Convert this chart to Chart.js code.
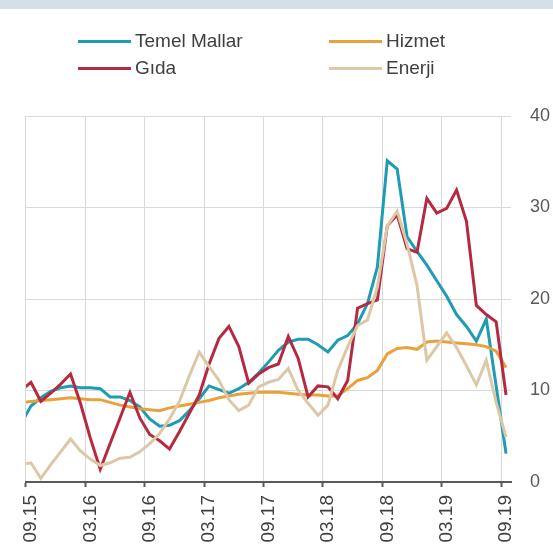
<!DOCTYPE html>
<html>
<head>
<meta charset="utf-8">
<script src="https://cdn.jsdelivr.net/npm/chart.js@4.4.1/dist/chart.umd.min.js"></script>
<style>
  html, body { margin: 0; padding: 0; background: #ffffff; }
  #wrap { position: relative; width: 553px; height: 544px; overflow: hidden; }
  #band { position: absolute; left: 0; top: 0; width: 553px; height: 9px; background: #d6dfe8; }
  canvas { position: absolute; left: 0; top: 0; }
  .lg { position: absolute; font-family: "Liberation Sans", Arial, sans-serif; font-size: 19px; color: #404040; line-height: 20px; white-space: nowrap; }
  .lgline { position: absolute; height: 3px; width: 53px; }
</style>
</head>
<body>
<div id="wrap">
  <div id="band"></div>
  <canvas id="c" width="553" height="544"></canvas>
  <div id="legend"></div>
</div>
<script>
// Category labels (first entry 08.15 lies just outside the visible axis, its segment is clipped at the left edge)
const labels = ['08.15','09.15','10.15','11.15','12.15','01.16','02.16','03.16','04.16','05.16','06.16','07.16','08.16',
  '09.16','10.16','11.16','12.16','01.17','02.17','03.17','04.17','05.17','06.17','07.17','08.17',
  '09.17','10.17','11.17','12.17','01.18','02.18','03.18','04.18','05.18','06.18','07.18','08.18',
  '09.18','10.18','11.18','12.18','01.19','02.19','03.19','04.19','05.19','06.19','07.19','08.19','09.19'];

const seriesNames = ['Temel Mallar', 'Hizmet', 'Gıda', 'Enerji'];

const temelMallar = [6.4, 8.3, 9.2, 9.9, 10.3, 10.5, 10.3, 10.3, 10.2, 9.3, 9.3, 8.9, 8.2,
  6.9, 6.1, 6.2, 6.7, 7.8, 9.1, 10.5, 10.1, 9.7, 10.2, 10.9, 11.9,
  13.1, 14.4, 15.3, 15.6, 15.6, 15.0, 14.2, 15.5, 16.0, 17.3, 19.5, 23.5,
  35.1, 34.2, 26.8, 25.2, 23.7, 22.0, 20.3, 18.3, 17.0, 15.4, 17.8, 10.5, 3.1];

const hizmet = [8.7, 8.8, 8.9, 9.0, 9.1, 9.2, 9.1, 9.0, 9.0, 8.7, 8.4, 8.2, 8.0,
  7.9, 7.8, 8.1, 8.3, 8.5, 8.7, 8.9, 9.2, 9.4, 9.6, 9.7, 9.8,
  9.8, 9.8, 9.7, 9.6, 9.5, 9.5, 9.4, 9.4, 10.2, 11.1, 11.4, 12.2,
  14.0, 14.6, 14.7, 14.5, 15.3, 15.4, 15.3, 15.2, 15.1, 15.0, 14.8, 14.3, 12.5];

const gida = [10.0, 10.9, 8.8, 9.7, 10.7, 11.8, 8.6, 4.8, 1.4, 4.2, 7.0, 9.8, 7.0,
  5.2, 4.5, 3.6, 5.5, 7.5, 9.5, 12.9, 15.7, 17.0, 14.8, 10.8, 11.8,
  12.5, 12.9, 15.9, 13.5, 9.3, 10.5, 10.4, 9.1, 11.1, 19.0, 19.5, 19.9,
  28.0, 29.2, 25.5, 25.1, 31.0, 29.4, 29.9, 31.9, 28.5, 19.3, 18.3, 17.5, 9.5];

const enerji = [1.9, 2.1, 0.4, 1.9, 3.3, 4.7, 3.4, 2.5, 1.8, 2.1, 2.6, 2.7, 3.3,
  4.2, 5.3, 6.9, 8.8, 11.6, 14.2, 12.6, 11.1, 9.0, 7.8, 8.4, 10.4,
  10.9, 11.2, 12.4, 10.0, 8.6, 7.3, 8.4, 12.2, 14.8, 17.1, 17.7, 21.3,
  28.0, 29.6, 26.0, 21.5, 13.3, 14.8, 16.3, 14.7, 12.7, 10.6, 13.3, 8.7, 4.9];

const yTicks = [0, 10, 20, 30, 40];

const colors = ['#1f9bb4', '#e9a23b', '#b52a40', '#dcc8a6'];
const values = [temelMallar, hizmet, gida, enerji];
const drawOrder = [3, 2, 1, 0];

// HTML legend (2 columns, row-major like the original)
const legendPos = [
  {lx: 78, tx: 135, y: 41},
  {lx: 329, tx: 386, y: 41},
  {lx: 78, tx: 135, y: 68},
  {lx: 329, tx: 386, y: 68}
];
const legendEl = document.getElementById('legend');
seriesNames.forEach((name, i) => {
  const p = legendPos[i];
  const ln = document.createElement('div');
  ln.className = 'lgline';
  ln.style.left = p.lx + 'px';
  ln.style.top = (p.y - 1.5) + 'px';
  ln.style.background = colors[i];
  legendEl.appendChild(ln);
  const tx = document.createElement('div');
  tx.className = 'lg';
  tx.style.left = p.tx + 'px';
  tx.style.top = (p.y - 10) + 'px';
  tx.textContent = name;
  legendEl.appendChild(tx);
});

const datasets = seriesNames.map((name, i) => ({
  label: name,
  data: values[i],
  borderColor: colors[i],
  backgroundColor: colors[i],
  borderWidth: 3,
  pointRadius: 0,
  pointHoverRadius: 0,
  tension: 0,
  fill: false,
  order: drawOrder[i]
}));

new Chart(document.getElementById('c'), {
  type: 'line',
  data: { labels: labels, datasets: datasets },
  options: {
    responsive: false,
    animation: false,
    devicePixelRatio: 1,
    layout: { padding: { left: 26, top: 116, right: 0, bottom: 0 } },
    plugins: { legend: { display: false }, tooltip: { enabled: false }, title: { display: false } },
    scales: {
      x: {
        type: 'category',
        min: '09.15',
        offset: true,
        grid: {
          offset: true,
          drawTicks: true,
          tickLength: 5,
          lineWidth: 1,
          color: (ctx) => (ctx.index !== undefined && ctx.index % 6 === 0) ? '#d9d9d9' : 'rgba(0,0,0,0)',
          tickColor: (ctx) => (ctx.index !== undefined && ctx.index % 6 === 0) ? '#595959' : 'rgba(0,0,0,0)',
          tickWidth: 2
        },
        border: { display: true, color: '#595959', width: 2 },
        ticks: {
          autoSkip: false,
          maxRotation: 90,
          minRotation: 90,
          padding: 8,
          color: '#404040',
          font: { family: '"Liberation Sans", Arial, sans-serif', size: 19 },
          callback: function (value, index) {
            return index % 6 === 0 ? this.getLabelForValue(value) : '';
          }
        },
        afterFit: (scale) => { scale.height = 62; }
      },
      y: {
        position: 'right',
        min: 0,
        max: 40,
        afterBuildTicks: (scale) => { scale.ticks = yTicks.map(v => ({ value: v })); },
        grid: { color: '#d9d9d9', lineWidth: 1, drawTicks: false },
        border: { display: false },
        ticks: {
          padding: 19,
          color: '#595959',
          font: { family: '"Liberation Sans", Arial, sans-serif', size: 18 }
        },
        afterFit: (scale) => { scale.width = 42; }
      }
    }
  }
});
</script>
</body>
</html>
